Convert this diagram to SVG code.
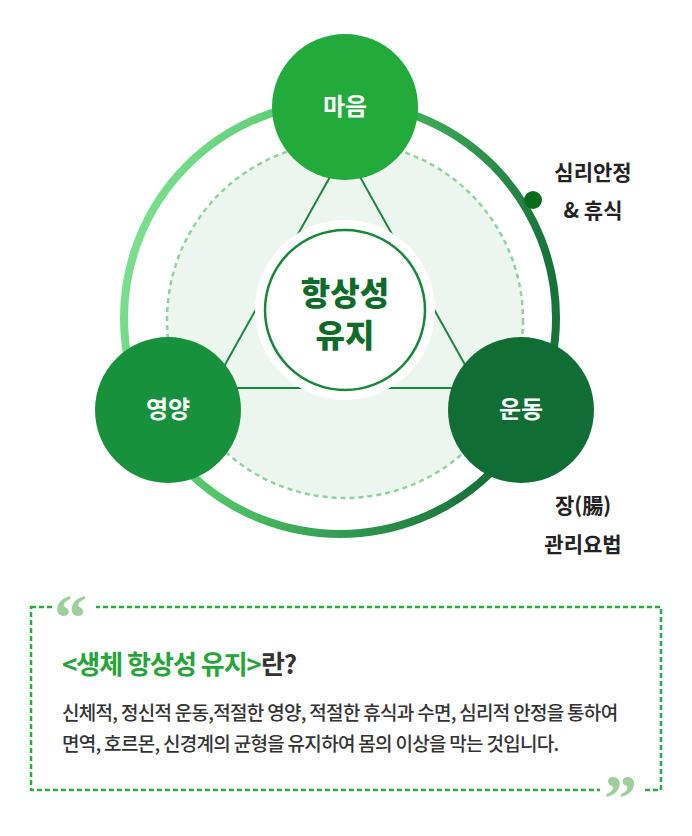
<svg xmlns="http://www.w3.org/2000/svg" width="692" height="836" viewBox="0 0 692 836">
<style>
.n{font-family:"Noto Sans CJK KR","Noto Sans",sans-serif;font-weight:700;fill:#fff;font-size:24px;text-anchor:middle}
.lbl{font-family:"Noto Sans CJK KR","Noto Sans",sans-serif;font-weight:700;fill:#222;font-size:21px;text-anchor:middle}
.body{font-family:"Noto Sans CJK KR","Noto Sans",sans-serif;font-weight:500;fill:#333;font-size:19px}
.q{font-family:"Liberation Serif",serif;font-weight:700;fill:#9ccf9c;font-size:66px}
</style>
<defs>
<linearGradient id="ring" x1="0" y1="0" x2="1" y2="0.3">
<stop offset="0" stop-color="#86e89a"/><stop offset="0.5" stop-color="#4bbf63"/><stop offset="1" stop-color="#17733a"/>
</linearGradient>
</defs>
<rect width="692" height="836" fill="#fff"/>
<g id="ring-outer"><circle cx="340" cy="318" r="216" fill="none" stroke="url(#ring)" stroke-width="8"/></g>
<g id="inner-area"><circle cx="345" cy="320" r="178" fill="#edf6ee" stroke="#8fd29c" stroke-width="2.5" stroke-dasharray="5 4"/></g>
<g id="connectors" stroke="#17873a" stroke-width="2" fill="none">
<polygon points="345,150 212,388 478,388"/>
</g>
<g id="center"><circle cx="345" cy="310" r="90" fill="#fff"/><circle cx="345" cy="310" r="80" fill="#fff" stroke="#17873a" stroke-width="2.5"/>
<text x="345" y="305" font-family="'Noto Sans CJK KR',sans-serif" font-weight="900" font-size="32" fill="#0f6b2a" text-anchor="middle">항상성</text>
<text x="345" y="347" font-family="'Noto Sans CJK KR',sans-serif" font-weight="900" font-size="32" fill="#0f6b2a" text-anchor="middle">유지</text></g>
<g id="node-mind"><circle cx="345" cy="107" r="73" fill="#22aa3a"/><text class="n" x="345" y="115">마음</text></g>
<g id="node-nutrition"><circle cx="168" cy="410" r="73" fill="#17913b"/><text class="n" x="168" y="418">영양</text></g>
<g id="node-exercise"><circle cx="521" cy="410" r="73" fill="#106e35"/><text class="n" x="521" y="418">운동</text></g>
<g id="dot"><circle cx="533" cy="200" r="9" fill="#0a6b1f"/></g>
<g id="label-rest"><text class="lbl" x="593" y="180">심리안정</text><text class="lbl" x="593" y="218">&amp; 휴식</text></g>
<g id="label-gut"><text class="lbl" x="583" y="513">장(腸)</text><text class="lbl" x="583" y="552">관리요법</text></g>
<g id="box">
<rect x="31" y="607" width="630" height="183" fill="none" stroke="#2bab3a" stroke-width="2.5" stroke-dasharray="5 3"/>
<rect x="52" y="595" width="44" height="25" fill="#fff"/>
<rect x="600" y="778" width="44" height="25" fill="#fff"/>
<text class="q" x="54" y="640">“</text>
<text class="q" x="604" y="820">”</text>
<text x="62" y="674" font-family="'Noto Sans CJK KR',sans-serif" font-weight="700" font-size="26" letter-spacing="-1"><tspan fill="#24a53a">&lt;생체 항상성 유지&gt;</tspan><tspan fill="#333">란?</tspan></text>
<text class="body" x="62" y="720" letter-spacing="-0.7">신체적, 정신적 운동,적절한 영양, 적절한 휴식과 수면, 심리적 안정을 통하여</text>
<text class="body" x="62" y="751" letter-spacing="-0.7">면역, 호르몬, 신경계의 균형을 유지하여 몸의 이상을 막는 것입니다.</text>
</g>
</svg>
